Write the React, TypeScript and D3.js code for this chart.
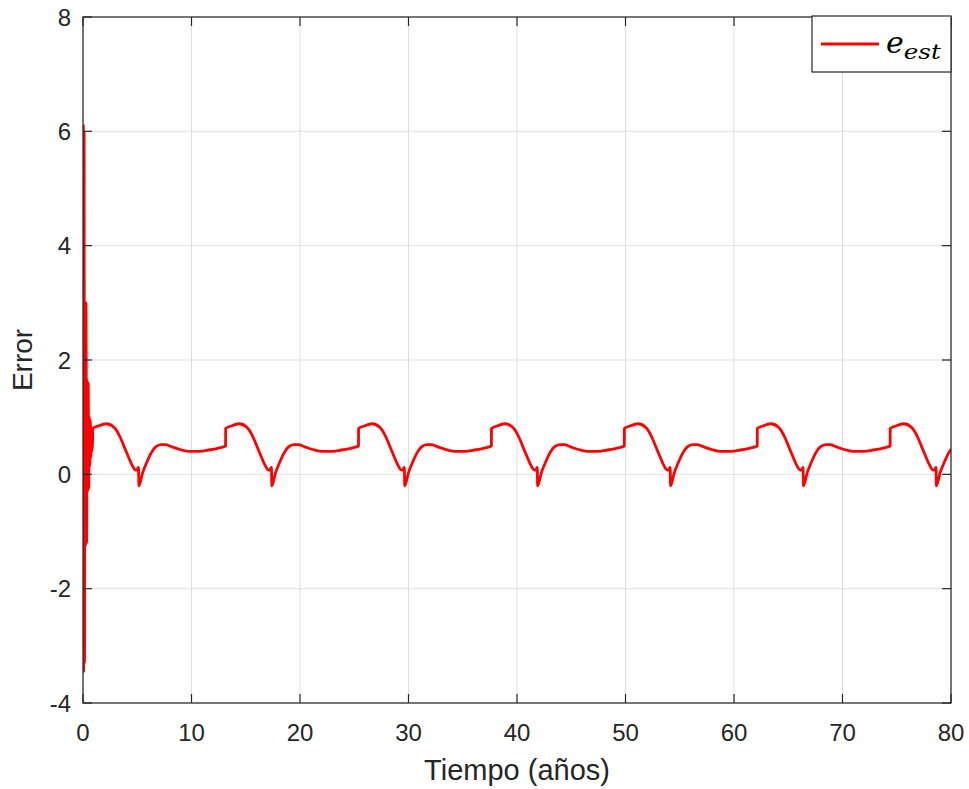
import React from 'react';
import * as d3 from 'd3';

const xTicks = [0, 10, 20, 30, 40, 50, 60, 70, 80];
const yTicks = [-4, -2, 0, 2, 4, 6, 8];

// initial transient (years, error)
const transientT = [0, 0.03, 0.06, 0.1, 0.14, 0.18, 0.23, 0.28, 0.33, 0.38, 0.43, 0.48, 0.53, 0.58, 0.63, 0.68, 0.73, 0.78, 0.83, 0.88];
const transientV = [0.3, 6.1, -3.45, 6.0, -3.3, 3.0, -1.25, 3.0, -1.2, 1.65, -0.3, 1.6, -0.25, 1.0, 0.15, 0.95, 0.3, 0.75, 0.4, 0.55];

// start (jump) time of each cycle
const cycleStarts = [0.9, 13.15, 25.4, 37.65, 49.9, 62.15, 74.4];
// shape of one cycle: offset from jump (years) and error value
const cycleOffsets = [0, 0.5, 1.25, 2.0, 2.55, 2.9, 3.3, 3.6, 3.95, 4.15, 4.22, 4.25, 4.6, 5.0, 5.4, 5.8, 6.3, 6.7, 7.3, 8.1, 9.0, 9.8, 10.8, 11.6, 12.24];
const cycleValues = [0.8, 0.845, 0.885, 0.815, 0.64, 0.48, 0.3, 0.17, 0.075, 0.1, 0.12, -0.2, 0.03, 0.22, 0.38, 0.48, 0.52, 0.52, 0.48, 0.43, 0.4, 0.4, 0.43, 0.46, 0.495];

const W = 969, H = 789;
const L = 83, R = 951, T = 17, B = 703;
const FONT = "'Liberation Sans', Arial, Helvetica, sans-serif";
const AX = '#262626';

export default function App() {
  const x = d3.scaleLinear().domain([0, 80]).range([L, R]);
  const y = d3.scaleLinear().domain([-4, 8]).range([B, T]);

  const pts: [number, number][] = transientT.map((t, i) => [t, transientV[i]]);
  let done = false;
  for (const s of cycleStarts) {
    if (done) break;
    for (let i = 0; i < cycleOffsets.length; i++) {
      const t = s + cycleOffsets[i];
      pts.push([t, cycleValues[i]]);
      if (t > 80) { done = true; break; }
    }
  }

  const line = d3.line<[number, number]>()
    .x(d => x(d[0]))
    .y(d => y(d[1]))
    .curve(d3.curveMonotoneX);

  const tick = 9;

  return (
    <svg width={W} height={H} style={{ position: 'absolute', left: 0, top: 0, background: '#fff' }} fontFamily={FONT}>
      <defs>
        <clipPath id="plotclip">
          <rect x={L} y={T} width={R - L} height={B - T} />
        </clipPath>
      </defs>
      <rect x={0} y={0} width={W} height={H} fill="#fff" />
      {xTicks.map(t => (
        <line key={'gx' + t} x1={x(t)} x2={x(t)} y1={T} y2={B} stroke="#dedede" strokeWidth={1} />
      ))}
      {yTicks.map(t => (
        <line key={'gy' + t} x1={L} x2={R} y1={y(t)} y2={y(t)} stroke="#dedede" strokeWidth={1} />
      ))}
      <path d={line(pts) || ''} fill="none" stroke="#ff0000" strokeWidth={2.8} strokeLinejoin="round" clipPath="url(#plotclip)" />
      <rect x={L} y={T} width={R - L} height={B - T} fill="none" stroke={AX} strokeWidth={1.2} />
      {xTicks.map(t => (
        <g key={'tx' + t}>
          <line x1={x(t)} x2={x(t)} y1={B} y2={B - tick} stroke={AX} strokeWidth={1.2} />
          <line x1={x(t)} x2={x(t)} y1={T} y2={T + tick} stroke={AX} strokeWidth={1.2} />
          <text x={x(t)} y={741} textAnchor="middle" fontSize={24} fill={AX}>{t}</text>
        </g>
      ))}
      {yTicks.map(t => (
        <g key={'ty' + t}>
          <line x1={L} x2={L + tick} y1={y(t)} y2={y(t)} stroke={AX} strokeWidth={1.2} />
          <line x1={R} x2={R - tick} y1={y(t)} y2={y(t)} stroke={AX} strokeWidth={1.2} />
          <text x={71} y={y(t) + 8.5} textAnchor="end" fontSize={24} fill={AX}>{t}</text>
        </g>
      ))}
      <text x={(L + R) / 2} y={780} textAnchor="middle" fontSize={29} fill={AX}>Tiempo (años)</text>
      <text transform={`translate(32, ${(T + B) / 2}) rotate(-90)`} textAnchor="middle" fontSize={28} fill={AX}>Error</text>
      <rect x={812} y={16} width={139} height={56} fill="#fff" stroke={AX} strokeWidth={1.2} />
      <line x1={821} x2={879} y1={44} y2={44} stroke="#ff0000" strokeWidth={2.8} />
      <text x={886} y={53} fontFamily="'DejaVu Serif', 'Liberation Serif', serif" fontStyle="italic" fill="#000">
        <tspan fontSize={30}>e</tspan>
        <tspan fontSize={21} dy={6} textLength={37} lengthAdjust="spacingAndGlyphs">est</tspan>
      </text>
    </svg>
  );
}
